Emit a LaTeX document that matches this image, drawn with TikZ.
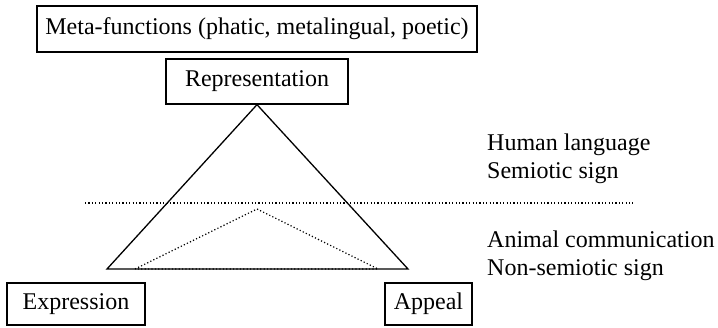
\documentclass[tikz,border=0pt]{standalone}
\usepackage{fontspec}
\setmainfont{Liberation Serif}
\begin{document}
\begin{tikzpicture}[x=1pt,y=-1pt,
  box/.style={draw,line width=1.3pt,inner sep=0pt,font=\fontsize{24}{28}\selectfont},
  lbl/.style={anchor=base west,inner sep=0pt,font=\fontsize{24}{28}\selectfont},
  tri/.style={line width=1.3pt},
  dots/.style={line width=1.2pt,dash pattern=on 1.2pt off 2.2pt}]
\useasboundingbox (0,0) rectangle (718,327);
\node[box,minimum width=440pt,minimum height=46pt] (meta) at (257,29) {Meta-functions (phatic, metalingual, poetic)};
\node[box,minimum width=182pt,minimum height=45pt] (rep) at (257,81.5) {Representation};
\node[box,minimum width=138pt,minimum height=42pt] (expr) at (76,304) {Expression};
\node[box,minimum width=87pt,minimum height=42pt] (app) at (428.5,304) {Appeal};
\coordinate (bl) at (107,269);
\coordinate (br) at (408,269);
\coordinate (ia) at (257,209);
\coordinate (il) at (135,269);
\coordinate (ir) at (378,269);
\coordinate (hl) at (85,203);
\coordinate (hr) at (633,203);
\draw[tri,line join=miter] (rep.south) -- (bl) -- (br) -- cycle;
\draw[dots] (il) -- (ia) -- (ir) -- cycle;
\draw[dots] (hl) -- (hr);
\node[lbl] (h1) at (487,150) {Human language};
\node[lbl] (h2) at (487,178) {Semiotic sign};
\node[lbl] (a1) at (487,247) {Animal communication};
\node[lbl] (a2) at (487,275) {Non-semiotic sign};
\end{tikzpicture}
\end{document}
